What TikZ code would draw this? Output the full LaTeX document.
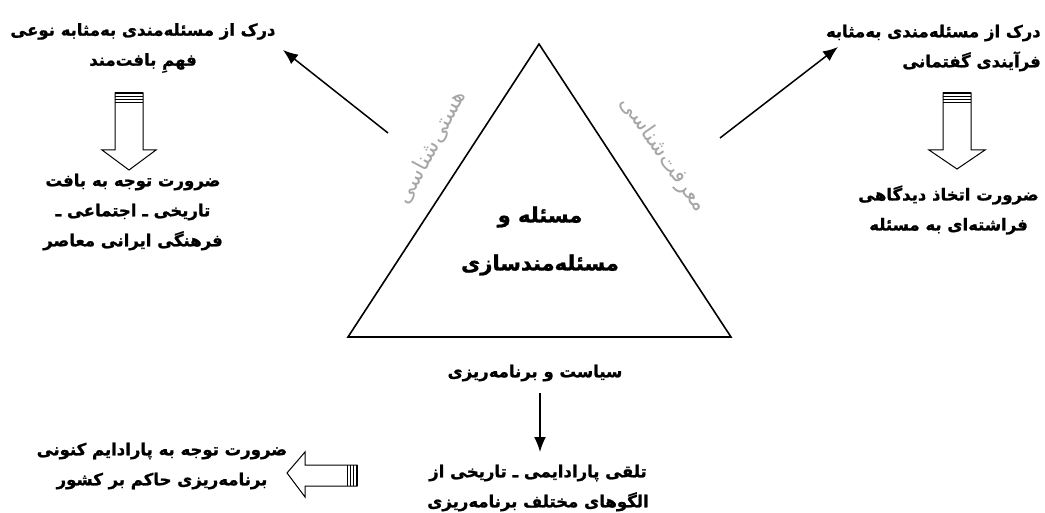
\documentclass[tikz,border=0pt]{standalone}
\usepackage{fontspec}
\usetikzlibrary{arrows.meta}
\TeXXeTstate=1
\newfontfamily\arabicfont[Script=Arabic, BoldFeatures={FakeBold=1.2}]{DejaVu Sans}
\newcommand{\fa}[1]{\beginR #1\endR}
\begin{document}
\begin{tikzpicture}[x=1pt,y=-1pt,
  txt/.style={font=\arabicfont\bfseries\fontsize{16.5}{30}\selectfont, align=center, inner sep=0pt},
  big/.style={font=\arabicfont\bfseries\fontsize{21}{48}\selectfont, align=center, inner sep=0pt},
  side/.style={font=\arabicfont\fontsize{22}{24}\selectfont, text=gray!70, inner sep=0pt},
  thin/.style={line width=1.5pt, -{Latex[length=15pt,width=12pt]}},
  block/.style={line width=1pt, fill=white},
  tri/.style={line width=1.6pt}]
\useasboundingbox (0,0) rectangle (1045,513);

% triangle
\coordinate (apex) at (539,44);
\coordinate (bl) at (348,337);
\coordinate (br) at (731,337);
\draw[tri] (apex) -- (bl) -- (br) -- cycle;

% texts
\node[txt] (tl) at (143,48) {\fa{درک از مسئله^^^^200cمندی به^^^^200cمثابه نوعی}\\\fa{فهمِ بافت^^^^200cمند}};
\node[txt, align=right, anchor=east] (tr) at (1041,48) {\fa{درک از مسئله^^^^200cمندی به^^^^200cمثابه}\\\fa{فرآیندی گفتمانی}};
\node[txt] (lb) at (133,212) {\fa{ضرورت توجه به بافت}\\\fa{تاریخی ـ اجتماعی ـ}\\\fa{فرهنگی ایرانی معاصر}};
\node[txt, anchor=east] (rb) at (1039,210) {\fa{ضرورت اتخاذ دیدگاهی}\\\fa{فراشته^^^^200cای به مسئله}};
\node[big] (ctr) at (540,241) {\fa{مسئله و}\\\fa{مسئله^^^^200cمندسازی}};
\node[txt] (pol) at (535,373) {\fa{سیاست و برنامه^^^^200cریزی}};
\node[txt] (par) at (538,488) {\fa{تلقی پارادایمی ـ تاریخی از}\\\fa{الگوهای مختلف برنامه^^^^200cریزی}};
\node[txt] (cur) at (162,466) {\fa{ضرورت توجه به پارادایم کنونی}\\\fa{برنامه^^^^200cریزی حاکم بر کشور}};

% side labels
\node[side, rotate=62] (ont) at (431,147) {\fa{هستی^^^^200cشناسی}};
\node[side, rotate=-55] (epi) at (663,155) {\fa{معرفت^^^^200cشناسی}};

% thin arrows
\coordinate (s1) at (388,133);
\coordinate (e1) at (283,50);
\coordinate (s2) at (720,138);
\coordinate (e2) at (838,47);
\draw[thin] (s1) -- (e1);
\draw[thin] (s2) -- (e2);
\coordinate (s3) at (540,393);
\draw[thin] (s3) -- (540,452) coordinate (e3);

% block arrow down (left)
\begin{scope}[shift={(115,93)}]
  \draw[block] (0,0) -- (0,57) -- (-13,57) -- (14,77) -- (41,57) -- (28,57) -- (28,0) -- cycle;
  \draw[line width=2pt] (0,0.5) -- (28,0.5);
  \draw[line width=0.8pt] (0,3.5) -- (28,3.5);
  \draw[line width=0.8pt] (0,6.5) -- (28,6.5);
  \draw[line width=1pt] (0,10) -- (28,10);
\end{scope}
% block arrow down (right)
\begin{scope}[shift={(943,93)}]
  \draw[block] (0,0) -- (0,57) -- (-14,57) -- (14,76) -- (42,57) -- (28,57) -- (28,0) -- cycle;
  \draw[line width=2pt] (0,0.5) -- (28,0.5);
  \draw[line width=0.8pt] (0,3.5) -- (28,3.5);
  \draw[line width=0.8pt] (0,6.5) -- (28,6.5);
  \draw[line width=1pt] (0,10) -- (28,10);
\end{scope}
% block arrow left (bottom)
\begin{scope}[shift={(357,465)}]
  \draw[block] (0,0) -- (-52,0) -- (-52,-13) -- (-70,8) -- (-52,32) -- (-52,21) -- (0,21) -- cycle;
  \draw[line width=2pt] (-0.5,0) -- (-0.5,21);
  \draw[line width=0.8pt] (-3.5,0) -- (-3.5,21);
  \draw[line width=0.8pt] (-6.5,0) -- (-6.5,21);
  \draw[line width=1pt] (-10,0) -- (-10,21);
\end{scope}
\end{tikzpicture}
\end{document}
